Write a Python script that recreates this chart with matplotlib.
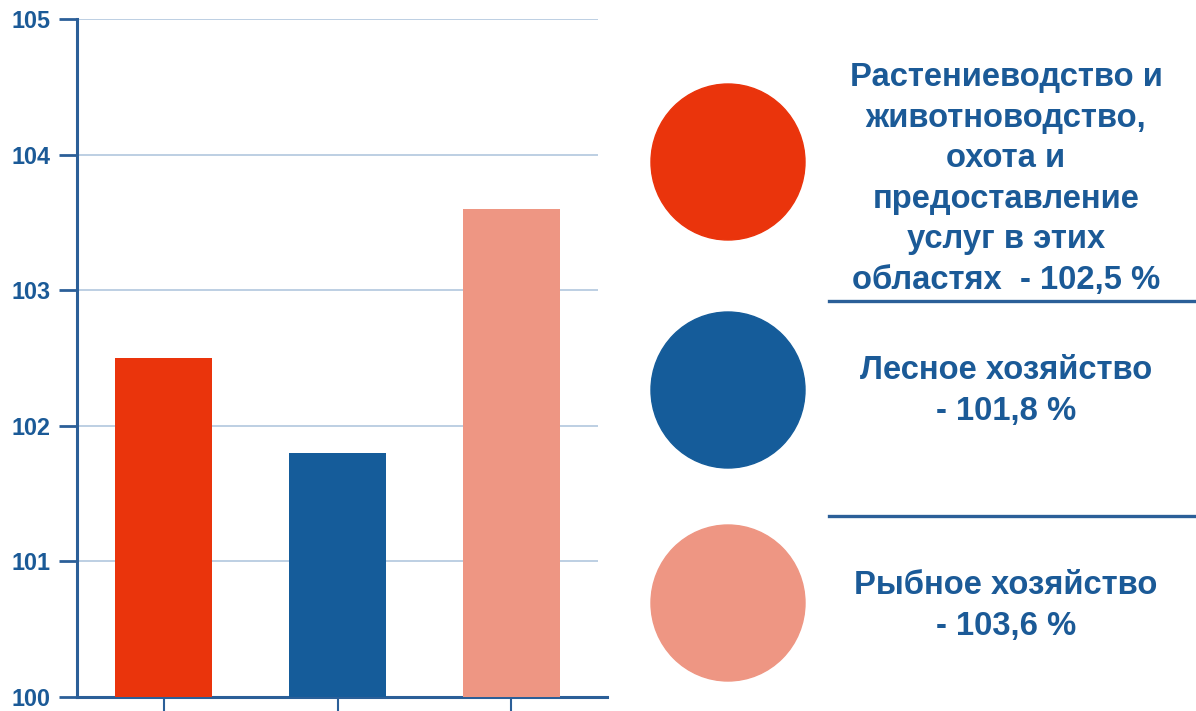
import matplotlib
matplotlib.use('Agg')
import matplotlib.pyplot as plt
from matplotlib.patches import Ellipse

plt.rcParams['font.family'] = ['Liberation Sans', 'DejaVu Sans']

# data
categories = ['Растениеводство и животноводство', 'Лесное хозяйство', 'Рыбное хозяйство']
values = [102.5, 101.8, 103.6]
colors = ['#EA340C', '#155C9A', '#EE9683']
labels = ['Растениеводство и\nживотноводство,\nохота и\nпредоставление\nуслуг в этих\nобластях  - 102,5 %',
          'Лесное хозяйство\n- 101,8 %',
          'Рыбное хозяйство\n- 103,6 %']
yticks = [100, 101, 102, 103, 104, 105]

txt = '#1B5A97'
spine = '#2B5F98'
W, H = 1196, 711

fig = plt.figure(figsize=(W / 100, H / 100), dpi=100)

# bar chart
ax = fig.add_axes([77 / W, 1 - 697 / H, (598 - 77) / W, (697 - 19) / H])
x = range(len(values))
ax.bar(x, [v - 100 for v in values], bottom=100, width=0.56, color=colors, zorder=3)
ax.set_xlim(-0.5, 2.5)
ax.set_ylim(100, 105)
ax.set_yticks(yticks)
ax.set_yticklabels([str(t) for t in yticks], fontsize=16.8, fontweight='bold', color=txt)
ax.set_xticks(list(x))
ax.set_xticklabels([])
ax.yaxis.grid(True, color='#B7CBE0', linewidth=1.3, zorder=0)
for s in ['top', 'right']:
    ax.spines[s].set_visible(False)
for s in ['left', 'bottom']:
    ax.spines[s].set_color(spine)
    ax.spines[s].set_linewidth(2.2)
ax.spines['bottom'].set_bounds(-0.5, 2.55)
ax.tick_params(axis='y', length=13, width=2, color=spine, pad=6)
ax.tick_params(axis='x', length=12, width=1.5, color=spine)

# legend drawn in pixel space
lg = fig.add_axes([0, 0, 1, 1], zorder=-1)
lg.set_xlim(0, W)
lg.set_ylim(H, 0)
lg.axis('off')
centers = [162, 390, 603]
text_y = [179, 391, 606]
for c, col, lab, ty in zip(centers, colors, labels, text_y):
    lg.add_patch(Ellipse((728, c), 154, 156, color=col))
    lg.text(1006, ty, lab, ha='center', va='center', fontsize=23.6, fontweight='bold',
            color=txt, linespacing=1.4)
for yl in [301, 516]:
    lg.plot([829, W], [yl, yl], color=spine, linewidth=2.4)

fig.savefig('out.png', dpi=100)
